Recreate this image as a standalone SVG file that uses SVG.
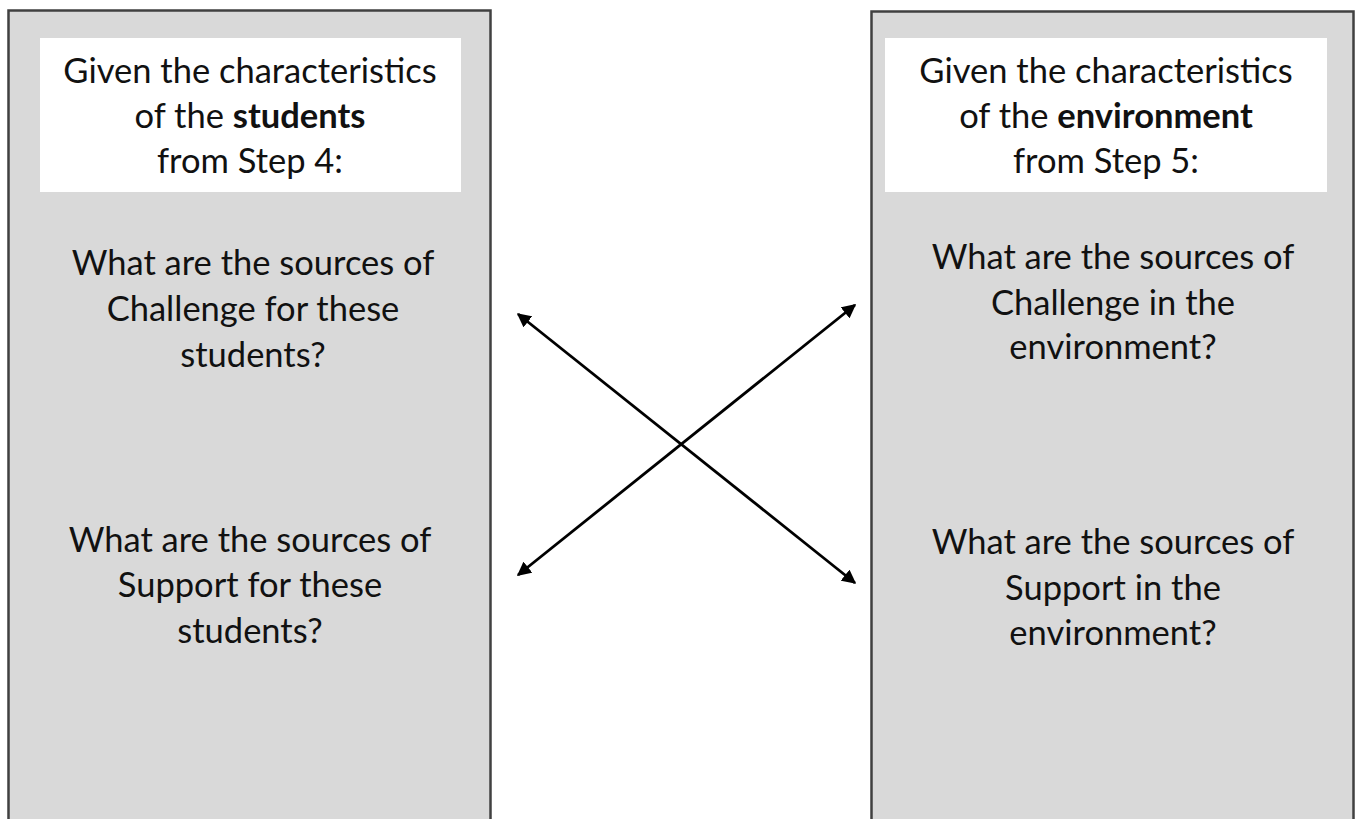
<svg xmlns="http://www.w3.org/2000/svg" width="1357" height="819" viewBox="0 0 1357 819">
<style>
.panel{fill:#d9d9d9;stroke:#404040;stroke-width:2.5}
.head{fill:#ffffff}
text{font-family:Lato,"Open Sans",sans-serif;font-size:34.5px;fill:#111;text-anchor:middle}
.b{font-weight:bold}
.conn{stroke:#000;stroke-width:2.8;fill:none;marker-start:url(#ah);marker-end:url(#ah)}
</style>
<defs>
<marker id="ah" viewBox="0 0 10 10" refX="9" refY="5" markerWidth="5" markerHeight="5" orient="auto-start-reverse" markerUnits="strokeWidth">
<path d="M0,0 L10,5 L0,10 z" fill="#000"/>
</marker>
</defs>
<g id="left">
<rect class="panel" x="8.5" y="10.5" width="482" height="820"/>
<rect class="head" x="40" y="38" width="421" height="154"/>
<text x="250" y="83">Given the characteristics</text>
<text x="250" y="128">of the <tspan class="b">students</tspan></text>
<text x="250" y="173">from Step 4:</text>
<text x="253" y="275">What are the sources of</text>
<text x="253" y="321">Challenge for these</text>
<text x="253" y="367">students?</text>
<text x="250" y="552">What are the sources of</text>
<text x="250" y="597">Support for these</text>
<text x="250" y="643">students?</text>
</g>
<g id="right">
<rect class="panel" x="871.5" y="11.5" width="482" height="820"/>
<rect class="head" x="885" y="38" width="442" height="154"/>
<text x="1106" y="83">Given the characteristics</text>
<text x="1106" y="128">of the <tspan class="b">environment</tspan></text>
<text x="1106" y="173">from Step 5:</text>
<text x="1113" y="269">What are the sources of</text>
<text x="1113" y="315">Challenge in the</text>
<text x="1113" y="359">environment?</text>
<text x="1113" y="554">What are the sources of</text>
<text x="1113" y="600">Support in the</text>
<text x="1113" y="645">environment?</text>
</g>
<g id="connectors">
<line class="conn" x1="518" y1="314" x2="855" y2="583"/>
<line class="conn" x1="518" y1="575" x2="855" y2="305"/>
</g>
</svg>
